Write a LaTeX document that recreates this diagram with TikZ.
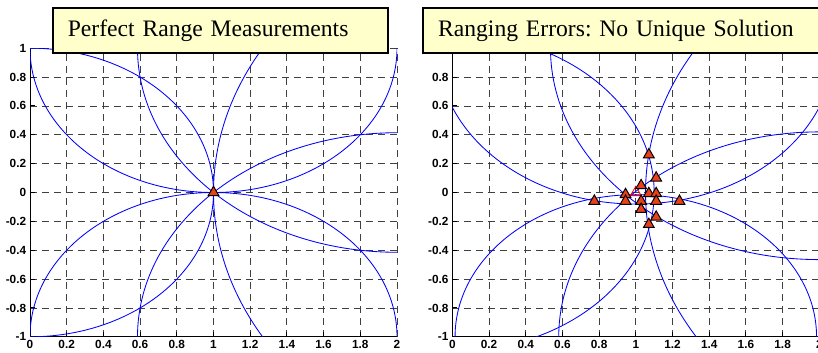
\documentclass[tikz,border=0pt]{standalone}
\usepackage{fontspec}
\setmainfont{Liberation Serif}
\setsansfont{Liberation Sans}
\usetikzlibrary{shapes.geometric}

\definecolor{boxyellow}{RGB}{255,255,204}
\definecolor{markred}{RGB}{232,64,24}
\definecolor{rangeblue}{RGB}{0,0,255}

\begin{document}
\frenchspacing
\begin{tikzpicture}[
    rangecircle/.style={draw=rangeblue, line width=0.6pt},
    gridline/.style={draw=black!75, line width=0.6pt, dash pattern=on 0.175cm off 0.125cm},
    axisline/.style={draw=black, line width=0.7pt},
    ticklabel/.style={font=\sffamily\bfseries\fontsize{8.4}{9}\selectfont, inner sep=0pt},
    marker/.style={regular polygon, regular polygon sides=3, draw=black, line width=0.7pt, fill=markred, inner sep=0pt, minimum size=0.31cm},
    truepos/.style={regular polygon, regular polygon sides=3, draw=red, line width=0.6pt, inner sep=0pt, minimum size=0.31cm},
    titlebox/.style={rectangle, draw=black, line width=1.1pt, fill=boxyellow, anchor=north west, minimum height=1.1175cm, inner xsep=0.375cm, align=left, font=\fontsize{16.8}{20}\selectfont}]

\useasboundingbox (0,0) rectangle (20.45,8.8);

% axes and dashed grid of both plots
\foreach \ox/\p in {0.75/l, 11.3075/r} {
  \begin{scope}[shift={(\ox,3.9875)}, x=4.5875cm, y=3.6075cm]
    \foreach \x in {0.2,0.4,...,2.0} \path[gridline] (\x,-1) -- (\x,1);
    \foreach \y in {-0.8,-0.6,...,1.0} \path[gridline] (0,\y) -- (2,\y);
    \path[axisline] (0,1) -- (0,-1) -- (2,-1);
    \foreach \x in {0.2,0.4,...,1.8} \path[axisline] (\x,-1) -- ++(0,0.12cm);
    \foreach \y in {-0.8,-0.6,...,0.8} \path[axisline] (0,\y) -- ++(0.12cm,0);
    \foreach \t [count=\i] in {0,0.2,0.4,0.6,0.8,1,1.2,1.4,1.6,1.8,2}
      \node[ticklabel, anchor=north] (xl\p\i) at ([yshift=-0.08cm]\t,-1) {\t};
    \foreach \t [count=\i] in {-1,-0.8,-0.6,-0.4,-0.2,0,0.2,0.4,0.6,0.8,1}
      \node[ticklabel, anchor=east] (yl\p\i) at ([xshift=-0.09cm]0,\t) {\t};
  \end{scope}
}

% left plot: exact ranges
\begin{scope}[shift={(0.75,3.9875)}, x=4.5875cm, y=3.6075cm]
  \clip (0,-1) rectangle (2,1);
  \draw[rangecircle] (1,1) circle [radius=1];
  \draw[rangecircle] (1,-1) circle [radius=1];
  \draw[rangecircle] (0,0) circle [radius=1];
  \draw[rangecircle] (2,1) circle [radius=1.41421];
  \draw[rangecircle] (2,-1) circle [radius=1.41421];
  \draw[rangecircle] (3,0) circle [radius=2];
  \node[marker] (fix) at (1,0) {};
\end{scope}

% right plot: noisy ranges
\begin{scope}[shift={(11.3075,3.9875)}, x=4.5875cm, y=3.6075cm]
  \clip (0,-1) rectangle (2,1);
  \draw[rangecircle] (1,1) circle [radius=1.08];
  \draw[rangecircle] (1,-1) circle [radius=0.985];
  \draw[rangecircle] (0,0) circle [radius=1.10];
  \draw[rangecircle] (2,1) circle [radius=1.465];
  \draw[rangecircle] (2,-1) circle [radius=1.42];
  \draw[rangecircle] (3,0) circle [radius=1.947];
  \node[truepos] (truefix) at (1,0) {};
  \foreach \x/\y [count=\i] in {1.071/0.262, 1.111/0.101, 1.029/0.048, 0.774/-0.06,
      0.944/-0.014, 0.944/-0.06, 1.071/-0.007, 1.111/-0.007, 1.029/-0.06,
      1.111/-0.06, 1.238/-0.06, 1.029/-0.117, 1.111/-0.17, 1.071/-0.221}
    \node[marker] (est\i) at (\x,\y) {};
\end{scope}

% titles
\node[titlebox, text width=7.625cm] (lefttitle) at (1.3,8.6175) {Perfect Range Measurements};
\node[titlebox, text width=9.5cm] (righttitle) at (10.5575,8.6175) {Ranging Errors: No Unique Solution};
\end{tikzpicture}
\end{document}
